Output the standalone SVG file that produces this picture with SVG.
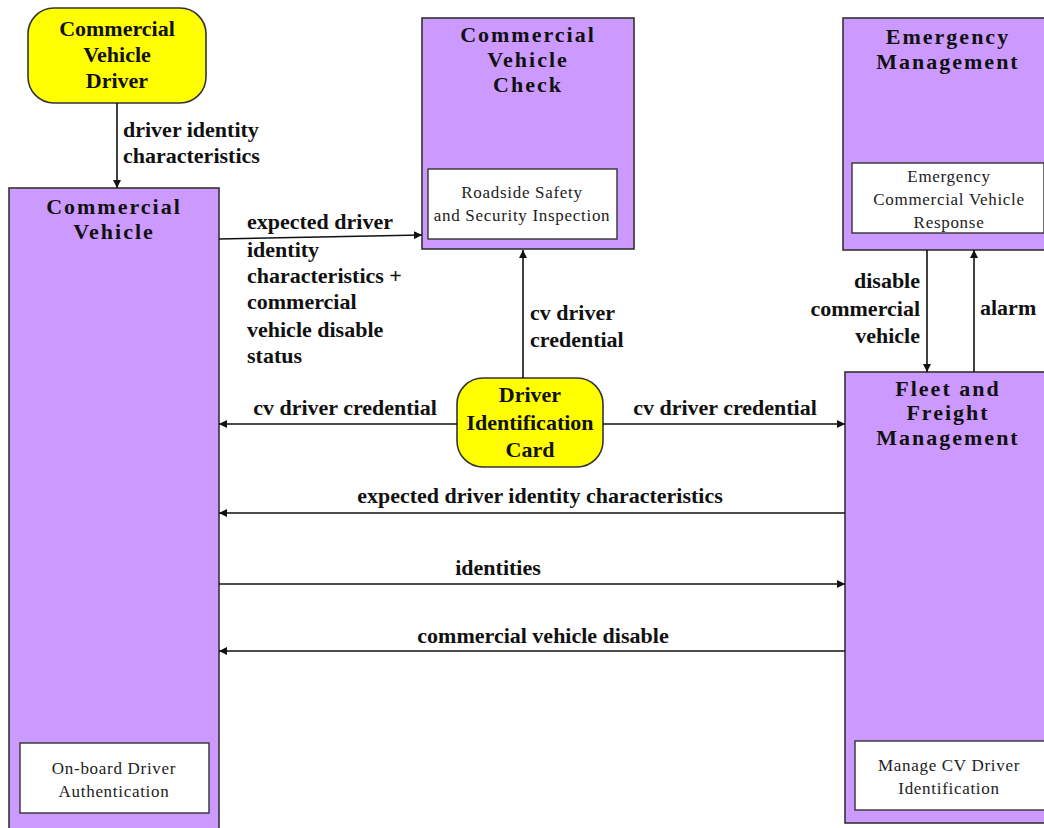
<svg xmlns="http://www.w3.org/2000/svg" width="1044" height="828" viewBox="0 0 1044 828">
<defs>
<marker id="ah" viewBox="0 0 10 10" refX="10" refY="5" markerWidth="8" markerHeight="8" markerUnits="userSpaceOnUse" orient="auto">
<path d="M0,0 L10,5 L0,10 z" fill="#111"/>
</marker>
<style>
.sys{fill:#CC99FF;stroke:#333;stroke-width:1.6}
.term{fill:#FFFF00;stroke:#333;stroke-width:1.6}
.inner{fill:#FFFFFF;stroke:#333;stroke-width:1.4}
.title{font-family:"Liberation Serif",serif;font-weight:bold;font-size:22px;letter-spacing:2px;fill:#111;text-anchor:middle}
.tname{font-family:"Liberation Serif",serif;font-weight:bold;font-size:22px;fill:#111;text-anchor:middle}
.ptext{font-family:"Liberation Serif",serif;font-size:17px;letter-spacing:0.7px;fill:#222;text-anchor:middle}
.lbl{font-family:"Liberation Serif",serif;font-weight:bold;font-size:22px;fill:#111}
.flow{fill:none;stroke:#111;stroke-width:1.6;marker-end:url(#ah)}
</style>
</defs>
<rect width="1044" height="828" fill="#FFFFFF"/>

<g id="cv-driver">
<rect class="term" x="28" y="8" width="178" height="95" rx="26"/>
<text class="tname" x="117" y="36">Commercial</text>
<text class="tname" x="117" y="62">Vehicle</text>
<text class="tname" x="117" y="88">Driver</text>
</g>

<g id="commercial-vehicle">
<rect class="sys" x="9" y="188" width="210" height="650"/>
<text class="title" x="114" y="214">Commercial</text>
<text class="title" x="114" y="239">Vehicle</text>
<rect class="inner" x="20" y="743" width="189" height="70"/>
<text class="ptext" x="114" y="774">On-board Driver</text>
<text class="ptext" x="114" y="797">Authentication</text>
</g>

<g id="cv-check">
<rect class="sys" x="422" y="18" width="212" height="231"/>
<text class="title" x="528" y="42">Commercial</text>
<text class="title" x="528" y="67">Vehicle</text>
<text class="title" x="528" y="92">Check</text>
<rect class="inner" x="428" y="169" width="189" height="70"/>
<text class="ptext" x="522" y="198">Roadside Safety</text>
<text class="ptext" x="522" y="221">and Security Inspection</text>
</g>

<g id="emergency-management">
<rect class="sys" x="843" y="18" width="210" height="232"/>
<text class="title" x="948" y="44">Emergency</text>
<text class="title" x="948" y="69">Management</text>
<rect class="inner" x="852" y="163" width="192" height="70"/>
<text class="ptext" x="949" y="182">Emergency</text>
<text class="ptext" x="949" y="205">Commercial Vehicle</text>
<text class="ptext" x="949" y="228">Response</text>
</g>

<g id="fleet-freight">
<rect class="sys" x="845" y="372" width="210" height="451"/>
<text class="title" x="948" y="396">Fleet and</text>
<text class="title" x="948" y="420">Freight</text>
<text class="title" x="948" y="445">Management</text>
<rect class="inner" x="855" y="741" width="192" height="69"/>
<text class="ptext" x="949" y="771">Manage CV Driver</text>
<text class="ptext" x="949" y="794">Identification</text>
</g>

<g id="driver-id-card">
<rect class="term" x="457" y="378" width="146" height="89" rx="26"/>
<text class="tname" x="530" y="402">Driver</text>
<text class="tname" x="530" y="430">Identification</text>
<text class="tname" x="530" y="457">Card</text>
</g>

<g id="connectors">
<line class="flow" x1="117" y1="103" x2="117" y2="188"/>
<line class="flow" x1="219" y1="239" x2="422" y2="235"/>
<line class="flow" x1="523" y1="378" x2="523" y2="250"/>
<line class="flow" x1="457" y1="424" x2="219" y2="424"/>
<line class="flow" x1="603" y1="424" x2="845" y2="424"/>
<line class="flow" x1="845" y1="513" x2="219" y2="513"/>
<line class="flow" x1="219" y1="584" x2="845" y2="584"/>
<line class="flow" x1="845" y1="651" x2="219" y2="651"/>
<line class="flow" x1="927" y1="250" x2="927" y2="372"/>
<line class="flow" x1="974" y1="372" x2="974" y2="250"/>
</g>

<g id="labels">
<text class="lbl" x="123" y="137">driver identity</text>
<text class="lbl" x="123" y="163">characteristics</text>
<text class="lbl" x="247" y="229">expected driver</text>
<text class="lbl" x="247" y="257">identity</text>
<text class="lbl" x="247" y="283">characteristics +</text>
<text class="lbl" x="247" y="309">commercial</text>
<text class="lbl" x="247" y="337">vehicle disable</text>
<text class="lbl" x="247" y="363">status</text>
<text class="lbl" x="530" y="320">cv driver</text>
<text class="lbl" x="530" y="347">credential</text>
<text class="lbl" x="345" y="415" text-anchor="middle">cv driver credential</text>
<text class="lbl" x="725" y="415" text-anchor="middle">cv driver credential</text>
<text class="lbl" x="540" y="503" text-anchor="middle">expected driver identity characteristics</text>
<text class="lbl" x="498" y="575" text-anchor="middle">identities</text>
<text class="lbl" x="543" y="643" text-anchor="middle">commercial vehicle disable</text>
<text class="lbl" x="920" y="288" text-anchor="end">disable</text>
<text class="lbl" x="920" y="316" text-anchor="end">commercial</text>
<text class="lbl" x="920" y="343" text-anchor="end">vehicle</text>
<text class="lbl" x="980" y="315">alarm</text>
</g>
</svg>
